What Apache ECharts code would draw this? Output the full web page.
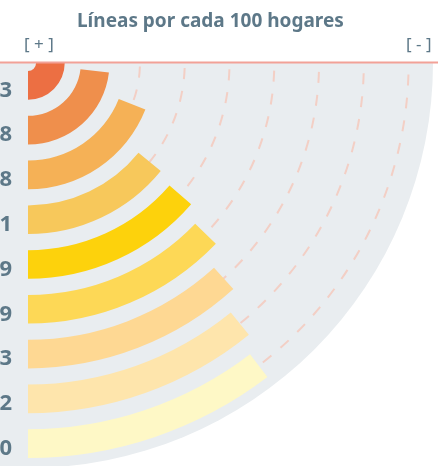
<!DOCTYPE html>
<html>
<head>
<meta charset="utf-8">
<script src="https://cdn.jsdelivr.net/npm/echarts@6/dist/echarts.min.js"></script>
<style>
  html, body { margin: 0; padding: 0; background: #ffffff; }
  #chart { width: 438px; height: 466px; }
</style>
</head>
<body>
<div id="chart"></div>
<script>
// Lines per 100 households, largest first (innermost ring)
const values = [60.3, 55.8, 45.8, 34.1, 32.9, 30.9, 28.3, 26.2, 25.0];
const barColors = ['#ec6f43', '#ef8f4c', '#f5b156', '#f7c85b', '#fdd20c',
                   '#fdd856', '#fed893', '#fee5ac', '#fef8c6'];
// Ring labels are the values themselves, Spanish decimal comma
const ringLabels = values.map(v => v.toFixed(1).replace('.', ','));
const titleText = 'Líneas por cada 100 hogares';
const moreText = '[ + ]';
const lessText = '[ - ]';

const FONT = 'Noto Sans';
const INK = '#5d7888';
const GUIDE = '#f3cfc5';
const CX = 28, CY = 63;      // polar origin, top-left corner of the quarter
const RING_OUTER = 403;      // outer edge of the last ring band
const DISC_R = 405;          // grey backdrop radius

// Guide arcs only on the outer rings; the two inner rings stay plain
const guideColors = ringLabels.map((_, i) => (i < 2 ? 'rgba(0,0,0,0)' : GUIDE));

const chart = echarts.init(document.getElementById('chart'));
chart.setOption({
  animation: false,
  backgroundColor: '#ffffff',
  title: [
    { text: titleText, left: 77, top: 12, padding: 0,
      textStyle: { fontFamily: FONT, fontSize: 19, fontWeight: 'bold', color: INK } },
    { text: moreText, left: 24, top: 37, padding: 0,
      textStyle: { fontFamily: FONT, fontSize: 17, fontWeight: 'normal', color: INK } },
    { text: lessText, left: 406, top: 37, padding: 0,
      textStyle: { fontFamily: FONT, fontSize: 17, fontWeight: 'normal', color: INK } }
  ],
  polar: { center: [CX, CY], radius: [0, RING_OUTER] },
  angleAxis: {
    type: 'value', min: 0, max: values[0],
    startAngle: 270, endAngle: 360, clockwise: false,
    axisLine: { show: false }, axisTick: { show: false },
    axisLabel: { show: false }, splitLine: { show: false }
  },
  radiusAxis: {
    type: 'category', data: ringLabels,
    axisLine: { show: false },
    axisTick: { show: false, alignWithLabel: true, interval: 0 },
    // labels sit a little below the ring centre line
    axisLabel: { interval: 0, margin: -16, align: 'right', verticalAlign: 'top',
                 lineHeight: 10,
                 fontFamily: FONT, fontSize: 22, fontWeight: 'bold', color: INK },
    splitLine: { show: true, interval: 0,
                 lineStyle: { color: guideColors, width: 2, type: [11, 12] } }
  },
  series: [{
    type: 'bar', coordinateSystem: 'polar', barWidth: '64%',
    data: values.map((v, i) => ({ value: v, itemStyle: { color: barColors[i] } })),
    z: 3
  }],
  graphic: [
    { type: 'sector', z: -10, silent: true,
      shape: { cx: CX, cy: CY, r0: 0, r: DISC_R, startAngle: 0, endAngle: Math.PI, clockwise: true },
      style: { fill: '#e9edf0' } },
    { type: 'line', z: 100, silent: true,
      shape: { x1: 0, y1: CY - 0.5, x2: 438, y2: CY - 0.5 },
      style: { stroke: '#f2a197', lineWidth: 2 } }
  ]
});
</script>
</body>
</html>
